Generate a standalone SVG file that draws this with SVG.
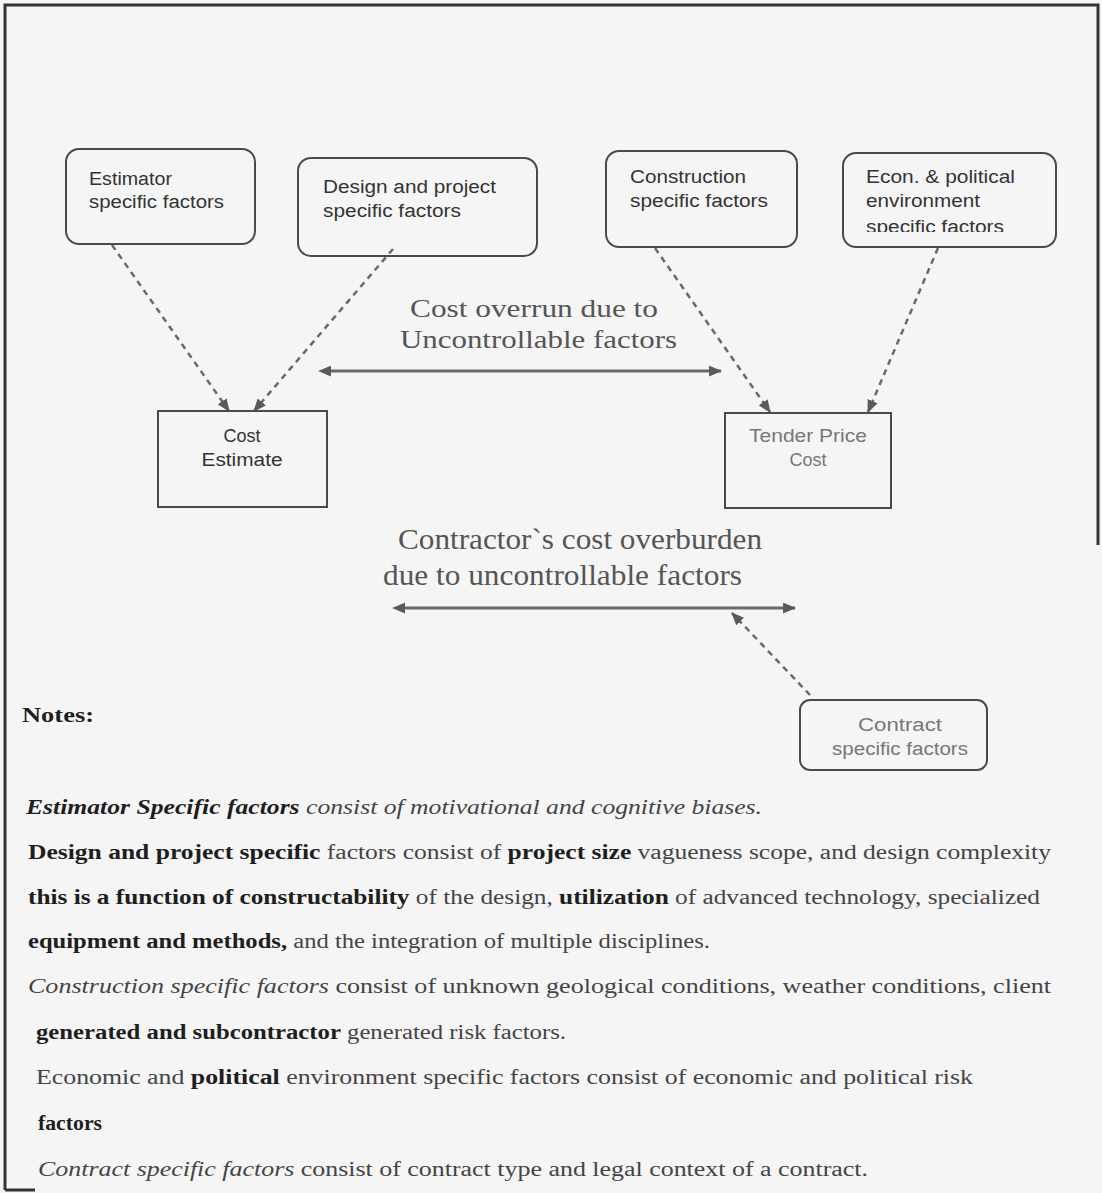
<svg xmlns="http://www.w3.org/2000/svg" width="1102" height="1193" viewBox="0 0 1102 1193">
<defs>
<style>
.box{fill:none;stroke:#4a4a4a;stroke-width:2}
.bt{font-family:"Liberation Sans",Arial,sans-serif;font-size:18px;fill:#333}
.lt{font-family:"Liberation Sans",Arial,sans-serif;font-size:18px;fill:#777}
.lab{font-family:"Liberation Serif","Times New Roman",serif;font-size:30px;fill:#555}
.lab2{font-family:"Liberation Serif","Times New Roman",serif;font-size:26px;fill:#555}
.nt{font-family:"Liberation Serif","Times New Roman",serif;font-size:20px;fill:#444}
.b{font-weight:bold;fill:#1e1e1e}
.i{font-style:italic}
.dash{fill:none;stroke:#6a6a6a;stroke-width:2.5;stroke-dasharray:6 5}
.solid{fill:none;stroke:#6a6a6a;stroke-width:3}
.frame{stroke:#333;stroke-width:3;fill:none}
</style>
<marker id="ah" viewBox="0 0 12 10" refX="11" refY="5" markerWidth="13" markerHeight="11" markerUnits="userSpaceOnUse" orient="auto">
<path d="M0,0 L12,5 L0,10 Z" fill="#5a5a5a"/>
</marker>
<marker id="as" viewBox="0 0 12 10" refX="1" refY="5" markerWidth="13" markerHeight="11" markerUnits="userSpaceOnUse" orient="auto-start-reverse">
<path d="M0,0 L12,5 L0,10 Z" fill="#5a5a5a"/>
</marker>
<clipPath id="econClip"><rect x="843" y="153" width="213" height="79"/></clipPath>
</defs>
<rect x="0" y="0" width="1102" height="1193" fill="#f5f5f5"/>
<g id="frame">
<path class="frame" d="M5,1190 L5,5 L1098,5 L1098,545"/>
<path class="frame" d="M5,1190 L35,1190"/>
</g>
<g id="connectors">
<path class="dash" d="M112,245 L229,411" marker-end="url(#ah)"/>
<path class="dash" d="M393,249 L254,411" marker-end="url(#ah)"/>
<path class="dash" d="M655,248 L770,412" marker-end="url(#ah)"/>
<path class="dash" d="M938,248 L868,412" marker-end="url(#ah)"/>
<path class="dash" d="M810,695 L732,613" marker-end="url(#ah)"/>
<path class="solid" d="M330,371 L721,371" marker-start="url(#as)" marker-end="url(#ah)"/>
<path class="solid" d="M404,608 L795,608" marker-start="url(#as)" marker-end="url(#ah)"/>
</g>
<g id="estimator">
<rect class="box" x="66" y="149" width="189" height="95" rx="13"/>
<text class="bt" x="89" y="185" textLength="83" lengthAdjust="spacingAndGlyphs">Estimator</text>
<text class="bt" x="89" y="208" textLength="135" lengthAdjust="spacingAndGlyphs">specific factors</text>
</g>
<g id="design">
<rect class="box" x="298" y="158" width="239" height="98" rx="13"/>
<text class="bt" x="323" y="193" textLength="173" lengthAdjust="spacingAndGlyphs">Design and project</text>
<text class="bt" x="323" y="217" textLength="138" lengthAdjust="spacingAndGlyphs">specific factors</text>
</g>
<g id="construction">
<rect class="box" x="606" y="151" width="191" height="96" rx="13"/>
<text class="bt" x="630" y="183" textLength="116" lengthAdjust="spacingAndGlyphs">Construction</text>
<text class="bt" x="630" y="207" textLength="138" lengthAdjust="spacingAndGlyphs">specific factors</text>
</g>
<g id="econ">
<rect class="box" x="843" y="153" width="213" height="94" rx="13"/>
<text class="bt" x="866" y="183" textLength="149" lengthAdjust="spacingAndGlyphs">Econ. &amp; political</text>
<text class="bt" x="866" y="207" textLength="114" lengthAdjust="spacingAndGlyphs">environment</text>
<text class="bt" x="866" y="233" textLength="138" lengthAdjust="spacingAndGlyphs" clip-path="url(#econClip)">specific factors</text>
</g>
<g id="cost-estimate">
<rect class="box" x="158" y="411" width="169" height="96"/>
<text class="bt" x="242" y="442" text-anchor="middle">Cost</text>
<text class="bt" x="242" y="466" text-anchor="middle" textLength="81" lengthAdjust="spacingAndGlyphs">Estimate</text>
</g>
<g id="tender">
<rect class="box" x="725" y="413" width="166" height="95"/>
<text class="lt" x="808" y="442" text-anchor="middle" textLength="118" lengthAdjust="spacingAndGlyphs">Tender Price</text>
<text class="lt" x="808" y="466" text-anchor="middle">Cost</text>
</g>
<g id="contract">
<rect class="box" x="800" y="700" width="187" height="70" rx="10"/>
<text class="lt" x="900" y="731" text-anchor="middle" textLength="84" lengthAdjust="spacingAndGlyphs">Contract</text>
<text class="lt" x="900" y="755" text-anchor="middle" textLength="136" lengthAdjust="spacingAndGlyphs">specific factors</text>
</g>
<g id="labels">
<text class="lab2" x="410" y="317" textLength="248" lengthAdjust="spacingAndGlyphs">Cost overrun due to</text>
<text class="lab2" x="400" y="348" textLength="277" lengthAdjust="spacingAndGlyphs">Uncontrollable factors</text>
<text class="lab" x="398" y="549" textLength="364" lengthAdjust="spacingAndGlyphs">Contractor`s cost overburden</text>
<text class="lab" x="383" y="585" textLength="359" lengthAdjust="spacingAndGlyphs">due to uncontrollable factors</text>
</g>
<g id="notes">
<text class="nt b" x="22" y="722" textLength="72" lengthAdjust="spacingAndGlyphs">Notes:</text>
<text class="nt i" x="26" y="814" textLength="736" lengthAdjust="spacingAndGlyphs"><tspan class="b">Estimator Specific factors</tspan> consist of motivational and cognitive biases.</text>
<text class="nt" x="28" y="859" textLength="1023" lengthAdjust="spacingAndGlyphs"><tspan class="b">Design and project specific</tspan> factors consist of <tspan class="b">project size</tspan> vagueness scope, and design complexity</text>
<text class="nt" x="28" y="904" textLength="1012" lengthAdjust="spacingAndGlyphs"><tspan class="b">this is a function of constructability</tspan> of the design, <tspan class="b">utilization</tspan> of advanced technology, specialized</text>
<text class="nt" x="28" y="948" textLength="682" lengthAdjust="spacingAndGlyphs"><tspan class="b">equipment and methods,</tspan> and the integration of multiple disciplines.</text>
<text class="nt" x="28" y="993" textLength="1023" lengthAdjust="spacingAndGlyphs"><tspan class="i">Construction specific factors</tspan> consist of unknown geological conditions, weather conditions, client</text>
<text class="nt" x="36" y="1039" textLength="530" lengthAdjust="spacingAndGlyphs"><tspan class="b">generated and subcontractor</tspan> generated risk factors.</text>
<text class="nt" x="36" y="1084" textLength="937" lengthAdjust="spacingAndGlyphs">Economic and <tspan class="b">political</tspan> environment specific factors consist of economic and political risk</text>
<text class="nt b" x="38" y="1130" textLength="64" lengthAdjust="spacingAndGlyphs">factors</text>
<text class="nt" x="38" y="1176" textLength="830" lengthAdjust="spacingAndGlyphs"><tspan class="i">Contract specific factors</tspan> consist of contract type and legal context of a contract.</text>
</g>
</svg>
